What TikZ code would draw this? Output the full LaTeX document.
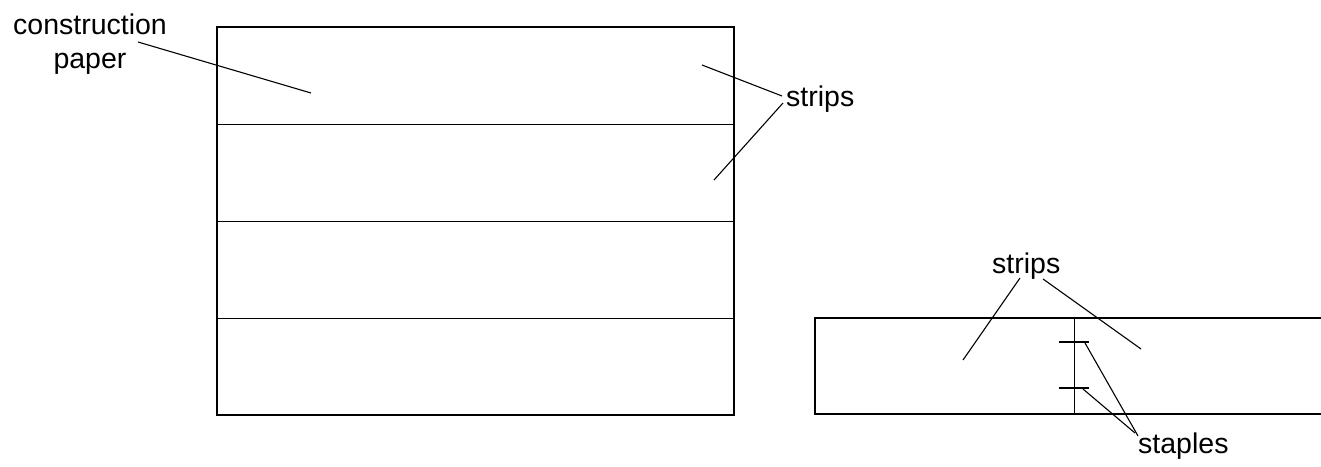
\documentclass[tikz,border=0pt]{standalone}
\usepackage{fontspec}
\setmainfont{Liberation Sans}
\begin{document}
\begin{tikzpicture}[x=1pt,y=-1pt,
  lbl/.style={inner sep=0pt,font=\fontsize{28.5}{34}\selectfont},
  frame/.style={line width=1.5pt},
  fold/.style={line width=0.9pt},
  leader/.style={line width=1.1pt}]
\useasboundingbox (0,0) rectangle (1321,466);
% construction paper sheet
\draw[frame] (217,27) rectangle (734,415);
\draw[fold] (217,124) -- (734,124);
\draw[fold] (217,221) -- (734,221);
\draw[fold] (217,318) -- (734,318);
% labels left
\node[lbl,align=center,anchor=north] (cp) at (90,14) {construction\\paper};
\coordinate (cpS) at (138,42);
\coordinate (cpE) at (311,93);
\draw[leader] (cpS) -- (cpE);
\node[lbl,anchor=base west] (st1) at (786,106) {strips};
\coordinate (st1a) at (782,96);
\coordinate (st1b) at (783,103);
\coordinate (s1) at (702,65);
\coordinate (s2) at (714,180);
\draw[leader] (s1) -- (st1a);
\draw[leader] (st1b) -- (s2);
% stapled strips
\draw[frame] (1321,318) -- (815,318) -- (815,414) -- (1321,414);
\draw[fold] (1074,318) -- (1074,414);
\draw[frame] (1059,342) coordinate (p1) -- (1089,342) coordinate (p1e);
\draw[frame] (1059,388) coordinate (p2) -- (1089,388) coordinate (p2e);
\node[lbl,anchor=base west] (st2) at (992,273) {strips};
\coordinate (st2a) at (1020,278);
\coordinate (st2b) at (1043,279);
\coordinate (t1) at (963,360);
\coordinate (t2) at (1141,349);
\draw[leader] (st2a) -- (t1);
\draw[leader] (st2b) -- (t2);
\node[lbl,anchor=base west] (sp) at (1138,453) {staples};
\coordinate (spa) at (1138,436);
\coordinate (spb) at (1135,433);
\coordinate (q1) at (1085,343);
\coordinate (q2) at (1083,389);
\draw[leader] (q1) -- (spa);
\draw[leader] (q2) -- (spb);
\end{tikzpicture}
\end{document}
